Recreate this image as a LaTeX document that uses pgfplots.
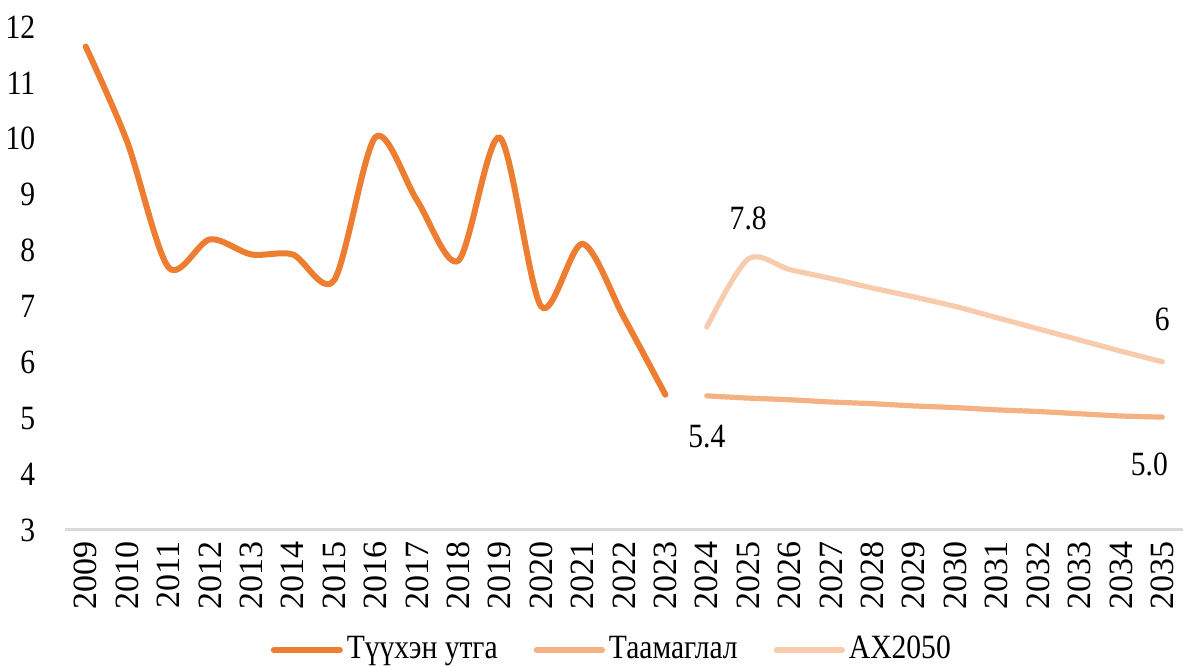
\documentclass[border=0pt]{standalone}
\usepackage{fontspec}
\setmainfont{Liberation Serif}
\newfontfamily\narrow{Liberation Serif}[FakeStretch=0.87]
\usepackage{pgfplots}
\pgfplotsset{compat=1.18}
\usepackage{pgfplotstable}
\definecolor{histc}{HTML}{ED7D31}
\definecolor{progc}{HTML}{F4B183}
\definecolor{axc}{HTML}{F8CBAD}
\definecolor{gridc}{HTML}{D9D9D9}
\pgfplotstableread{
x y
0 11.65
1 9.95
2 7.7
3 8.2
4 7.93
5 7.93
6 7.47
7 10.03
8 8.9
9 7.82
10 10.02
11 7.0
12 8.12
13 6.8
14 5.42
}\hist
\pgfplotstableread{
x y
15 5.4
16 5.36
17 5.33
18 5.29
19 5.26
20 5.22
21 5.19
22 5.15
23 5.12
24 5.08
25 5.04
26 5.02
}\prog
\pgfplotstableread{
x y
15 6.63
16 7.85
17 7.66
18 7.5
19 7.33
20 7.17
21 7.0
22 6.8
23 6.6
24 6.4
25 6.2
26 6.01
}\axs
\begin{document}
\begin{tikzpicture}
\fontsize{17}{20}\selectfont
\begin{axis}[
  name=ax,
  scale only axis,
  width=559pt, height=251.5pt,
  xmin=-0.5, xmax=26.5,
  ymin=3, ymax=12,
  ytick={3,...,12},
  xtick={0,...,26},
  xticklabels={2009,2010,2011,2012,2013,2014,2015,2016,2017,2018,2019,2020,2021,2022,2023,2024,2025,2026,2027,2028,2029,2030,2031,2032,2033,2034,2035},
  /pgf/number format/assume math mode=true,
  xticklabel style={font=\fontsize{17}{20}\selectfont, rotate=90, anchor=east},
  yticklabel style={font=\narrow\fontsize{17}{20}\selectfont, xshift=-9pt},
  major tick length=0pt,
  axis x line=bottom,
  axis y line=left,
  y axis line style={draw=none},
  x axis line style={gridc, line width=1.5pt, -},
  clip=false,
  legend columns=3,
  legend style={draw=none, at={(0.49,0)}, anchor=center, yshift=-60pt,
    font=\narrow\fontsize{17}{20}\selectfont,
    /tikz/every even column/.append style={column sep=16pt}},
  legend image code/.code={\draw[#1, line cap=round] (0pt,0pt) -- (33pt,0pt);},
]
\addplot[histc, line width=3pt, smooth, line cap=round] table {\hist};
\addlegendentry{Түүхэн утга}
\addplot[progc, line width=2.6pt, smooth, line cap=round] table {\prog};
\addlegendentry{Таамаглал}
\addplot[axc, line width=2.6pt, smooth, line cap=round] table {\axs};
\addlegendentry{АХ2050}
\begin{scope}[every node/.style={font=\narrow\fontsize{17}{20}\selectfont}]
\node[yshift=-20.5pt] at (axis cs:15,5.4) {5.4};
\node[yshift=-23.5pt, xshift=-6.5pt] at (axis cs:26,5.02) {5.0};
\node[yshift=20pt] at (axis cs:16,7.85) {7.8};
\node[yshift=21pt] at (axis cs:26,6.01) {6};
\end{scope}
\end{axis}
\pgfresetboundingbox
\path ([xshift=-32.5pt,yshift=-68pt]ax.south west) rectangle ([yshift=13.5pt]ax.north east);
\end{tikzpicture}
\end{document}
